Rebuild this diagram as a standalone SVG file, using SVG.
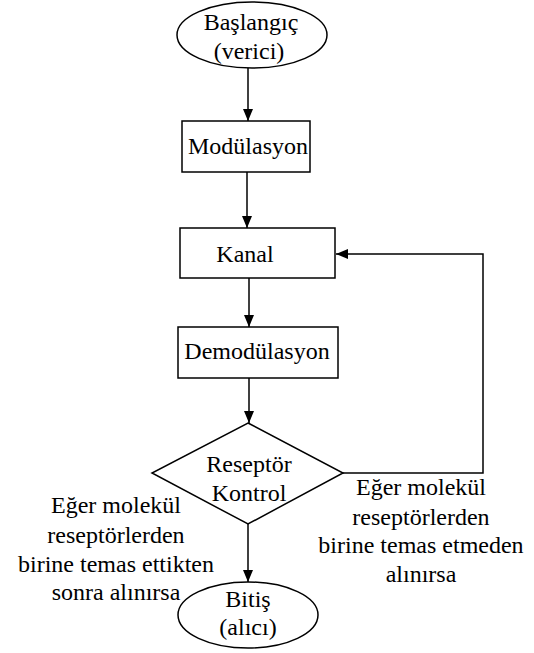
<svg xmlns="http://www.w3.org/2000/svg" width="534" height="653" viewBox="0 0 534 653">
<style>
.s{fill:#fff;stroke:#000;stroke-width:1.5}
.c{fill:none;stroke:#000;stroke-width:1.5}
text{font-family:'Liberation Serif','Times New Roman',Times,serif;font-size:24px;fill:#000;text-anchor:middle}
</style>
<defs>
<marker id="ah" viewBox="0 0 12 10" refX="12" refY="5" markerWidth="12" markerHeight="10" markerUnits="userSpaceOnUse" orient="auto">
<path d="M0,0 L12,5 L0,10 Z" fill="#000"/>
</marker>
</defs>
<rect width="534" height="653" fill="#fff"/>
<g id="connectors">
<line class="c" x1="248" y1="68" x2="248" y2="121" marker-end="url(#ah)"/>
<line class="c" x1="247" y1="172" x2="247" y2="228" marker-end="url(#ah)"/>
<line class="c" x1="249" y1="278" x2="249" y2="327" marker-end="url(#ah)"/>
<line class="c" x1="249" y1="378" x2="249" y2="423" marker-end="url(#ah)"/>
<line class="c" x1="248" y1="524" x2="248" y2="582" marker-end="url(#ah)"/>
<polyline class="c" points="343,473 483,473 483,254 336,254" marker-end="url(#ah)"/>
</g>
<g id="start">
<ellipse class="s" cx="252" cy="35" rx="75" ry="33"/>
<text x="251" y="30">Başlangıç</text>
<text x="249" y="59">(verici)</text>
</g>
<g id="modulasyon">
<rect class="s" x="182" y="121" width="128" height="51"/>
<text x="248" y="154">Modülasyon</text>
</g>
<g id="kanal">
<rect class="s" x="180" y="228" width="155" height="50"/>
<text x="245" y="262">Kanal</text>
</g>
<g id="demodulasyon">
<rect class="s" x="178" y="327" width="160" height="51"/>
<text x="257" y="359">Demodülasyon</text>
</g>
<g id="reseptor">
<polygon class="s" points="248,423 343,473 248,524 152,473"/>
<text x="249" y="472">Reseptör</text>
<text x="249" y="501">Kontrol</text>
</g>
<g id="end">
<ellipse class="s" cx="248" cy="615" rx="70" ry="33"/>
<text x="248" y="607">Bitiş</text>
<text x="248" y="635">(alıcı)</text>
</g>
<g id="labels">
<text x="116" y="513">Eğer molekül</text>
<text x="116" y="543">reseptörlerden</text>
<text x="116" y="572">birine temas ettikten</text>
<text x="116" y="600">sonra alınırsa</text>
<text x="421" y="495">Eğer molekül</text>
<text x="421" y="525">reseptörlerden</text>
<text x="421" y="553">birine temas etmeden</text>
<text x="421" y="582">alınırsa</text>
</g>
</svg>
